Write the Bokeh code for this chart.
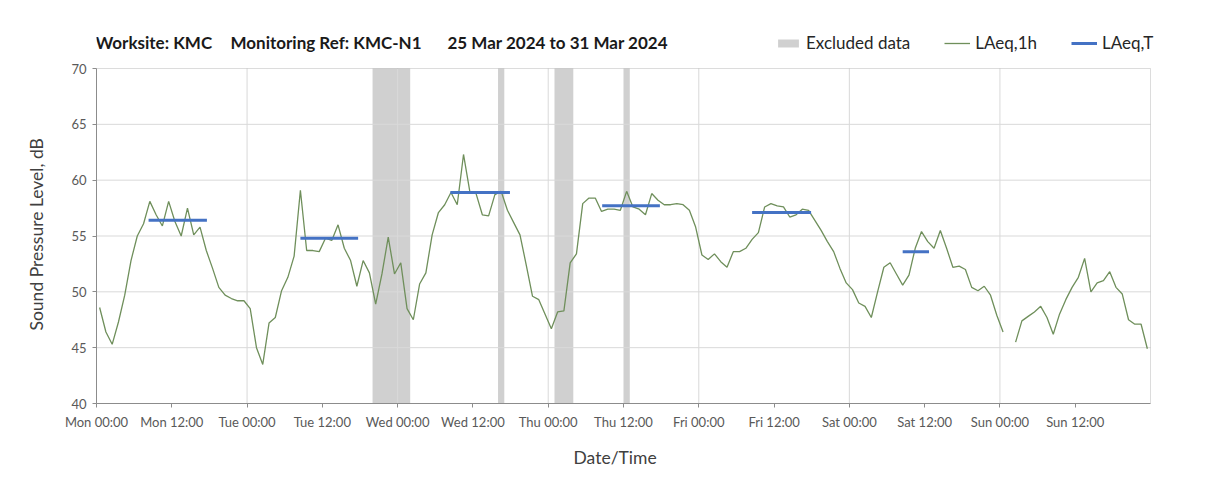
import numpy as np
from bokeh.plotting import figure
from bokeh.models import Range1d, FixedTicker, Label, Legend, LegendItem, BoxAnnotation, Title
from bokeh.embed import file_html
from bokeh.resources import INLINE

# ---------------- data ----------------
day_names = ["Mon", "Tue", "Wed", "Thu", "Fri", "Sat", "Sun"]

# LAeq,1h hourly values (dB), one list per day, hour 00..23
mon = [48.6, 46.4, 45.3, 47.3, 49.7, 52.8, 55.0, 56.1, 58.1, 56.9, 55.9, 58.1,
       56.3, 55.0, 57.5, 55.1, 55.8, 53.7, 52.1, 50.4, 49.7, 49.4, 49.2, 49.2]
tue = [48.5, 45.0, 43.5, 47.2, 47.7, 50.1, 51.3, 53.2, 59.1, 53.7, 53.7, 53.6,
       54.8, 54.6, 56.0, 53.9, 52.8, 50.5, 52.8, 51.7, 48.9, 51.6, 54.9, 51.6]
wed = [52.6, 48.5, 47.5, 50.7, 51.7, 55.1, 57.1, 57.8, 58.9, 57.8, 62.3, 59.0,
       58.8, 56.9, 56.8, 58.7, 59.0, 57.3, 56.2, 55.1, 52.4, 49.6, 49.3, 48.0]
thu = [46.7, 48.2, 48.3, 52.6, 53.4, 57.9, 58.4, 58.4, 57.2, 57.4, 57.4, 57.3,
       59.0, 57.6, 57.4, 56.9, 58.8, 58.2, 57.8, 57.8, 57.9, 57.8, 57.3, 55.8]
fri = [53.3, 52.9, 53.4, 52.7, 52.2, 53.6, 53.6, 53.9, 54.7, 55.3, 57.6, 57.9,
       57.7, 57.6, 56.7, 56.9, 57.4, 57.3, 56.4, 55.5, 54.5, 53.6, 52.1, 50.8]
sat = [50.2, 49.0, 48.7, 47.7, 50.0, 52.2, 52.6, 51.6, 50.6, 51.5, 53.9, 55.4,
       54.5, 53.9, 55.5, 53.9, 52.2, 52.3, 52.0, 50.4, 50.1, 50.5, 49.7, 47.9]
sun = [46.4, np.nan, 45.5, 47.4, 47.8, 48.2, 48.7, 47.7, 46.2, 48.0, 49.3, 50.4,
       51.3, 53.0, 50.0, 50.8, 51.0, 51.8, 50.4, 49.8, 47.5, 47.1, 47.1, 44.9]

# LAeq,T per day (Mon..Sat): level and period (hours of the day)
laeq_t = [56.4, 54.8, 58.9, 57.7, 57.1, 53.6]
laeq_t_start = [8.3, 8.5, 8.4, 8.6, 8.5, 8.5]
laeq_t_end = [17.6, 17.7, 17.9, 17.8, 17.9, 12.7]

# Excluded data periods (hours since Mon 00:00)
excl_start = [44, 64, 73, 84]
excl_end = [50, 65, 76, 85]

# axis limits and tick labels
x_min, x_max = 0, 168
y_min, y_max = 40, 70
y_ticks = [40, 45, 50, 55, 60, 65, 70]
tick_hours = list(range(0, 168, 12))
tick_labels = {h: f"{day_names[h // 24]} {h % 24:02d}:00" for h in tick_hours}
day_starts = list(range(24, 168, 24))
grid_levels = y_ticks[1:-1]

title_parts = ["Worksite: KMC", "Monitoring Ref: KMC-N1", "25 Mar 2024 to 31 Mar 2024"]

# ---------------- derived ----------------
hourly = mon + tue + wed + thu + fri + sat + sun
hours = np.arange(len(hourly)) + 0.5
seg_x0 = [24 * i + s for i, s in enumerate(laeq_t_start)]
seg_x1 = [24 * i + e for i, e in enumerate(laeq_t_end)]

FONT = "Lato"
TXT = "#404040"
GRID = "#d9d9d9"
AXC = "#8c8c8c"

# layout: plot box 96..1150 x 68..403 (px); the canvas frame extends further up
# and right so that the title/legend outside the plot box are not clipped
W, H = 1208, 496
BOX_LEFT, BOX_RIGHT, BOX_TOP, BOX_BOTTOM = 96, 1150, 68, 403
FRAME_TOP, FRAME_RIGHT = 10, 1200
px_per_db = (BOX_BOTTOM - BOX_TOP) / (y_max - y_min)
px_per_h = (BOX_RIGHT - BOX_LEFT) / (x_max - x_min)
y_top = y_max + (BOX_TOP - FRAME_TOP) / px_per_db
x_right = x_max + (FRAME_RIGHT - BOX_RIGHT) / px_per_h

p = figure(width=W, height=H, x_range=Range1d(x_min, x_right), y_range=Range1d(y_min, y_top),
           output_backend="svg", toolbar_location=None,
           min_border_left=BOX_LEFT, min_border_right=W - FRAME_RIGHT,
           min_border_top=FRAME_TOP, min_border_bottom=H - BOX_BOTTOM)

p.background_fill_color = "white"
p.border_fill_color = "white"
p.outline_line_color = None

# axes
p.xaxis.ticker = FixedTicker(ticks=tick_hours)
p.xaxis.major_label_overrides = tick_labels
p.xaxis.bounds = (x_min, x_max)
p.yaxis.ticker = FixedTicker(ticks=y_ticks)
p.yaxis.bounds = (y_min, y_max)
for ax in (p.xaxis[0], p.yaxis[0]):
    ax.axis_line_color = AXC
    ax.major_tick_line_color = AXC
    ax.major_tick_in = 0
    ax.major_tick_out = 4
    ax.minor_tick_line_color = None
    ax.major_label_text_font = FONT
    ax.major_label_text_font_size = "13px"
    ax.major_label_text_color = "#595959"
p.xaxis.major_label_standoff = 6
p.yaxis.major_label_standoff = 6

# axis titles, aligned to the plot box
p.add_layout(Title(text="Sound Pressure Level, dB", align="left", offset=73, standoff=44,
                   text_font=FONT, text_font_size="17.5px", text_font_style="normal",
                   text_color=TXT), "left")
p.add_layout(Title(text="Date/Time", align="left", offset=477, standoff=25,
                   text_font=FONT, text_font_size="17.5px", text_font_style="normal",
                   text_color=TXT), "below")

# grids (drawn as glyphs so they stay inside the plot box)
p.xgrid.visible = False
p.ygrid.visible = False
p.segment(x0=day_starts, y0=y_min, x1=day_starts, y1=y_max,
          line_color=GRID, line_width=1, level="underlay")
p.segment(x0=x_min, y0=grid_levels, x1=x_max, y1=grid_levels,
          line_color=GRID, line_width=1, level="underlay")

# plot box border
p.add_layout(BoxAnnotation(left=x_min, right=x_max, bottom=y_min, top=y_max,
                           fill_alpha=0, line_color=AXC, line_width=1, level="underlay"))

# glyphs
q = p.quad(left=excl_start, right=excl_end, bottom=y_min, top=y_max,
           fill_color="#d0d0d0", line_color=None, level="image")
ln = p.line(hours, hourly, line_color="#6f8f5b", line_width=1.3)
sg = p.segment(x0=seg_x0, y0=laeq_t, x1=seg_x1, y1=laeq_t,
               line_color="#4472c4", line_width=3, line_cap="butt")

legend = Legend(items=[LegendItem(label="Excluded data", renderers=[q]),
                       LegendItem(label="LAeq,1h", renderers=[ln]),
                       LegendItem(label="LAeq,T", renderers=[sg])],
                orientation="horizontal", location=(679, 350),
                border_line_color=None, background_fill_alpha=0,
                padding=0, margin=0, spacing=34,
                glyph_width=26, glyph_height=10, label_standoff=5,
                label_height=18, label_text_font=FONT, label_text_font_size="17px",
                label_text_color="#262626")
p.add_layout(legend)

# title parts
for x, t in zip([-1, 134, 351], title_parts):
    p.add_layout(Label(x=x, y=361, x_units="screen", y_units="screen", text=t,
                       text_font=FONT, text_font_size="17px", text_font_style="bold",
                       text_color="#1a1a1a", text_baseline="middle"))

open("out.html", "w").write(file_html(p, INLINE))
